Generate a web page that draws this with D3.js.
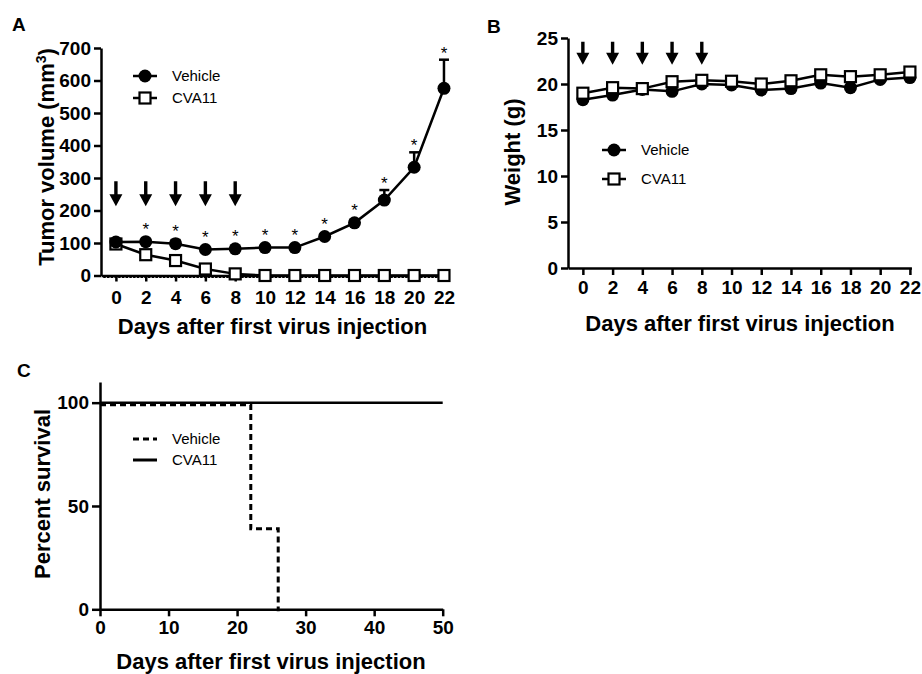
<!DOCTYPE html>
<html>
<head>
<meta charset="utf-8">
<script src="https://cdn.jsdelivr.net/npm/d3@7"></script>
<style>
  body { margin: 0; background: #fff; }
  svg { font-family: "Liberation Sans", Arial, sans-serif; }
  .axis path, .axis line { stroke: #000; stroke-width: 2.5; }
  .axis text { font-size: 19px; font-weight: bold; fill: #000; }
</style>
</head>
<body>
<div id="chart"></div>
<script>
// ---- data ----
const days = [0, 2, 4, 6, 8, 10, 12, 14, 16, 18, 20, 22];
const injectionDays = [0, 2, 4, 6, 8];
const sigDays = [2, 4, 6, 8, 10, 12, 14, 16, 18, 20, 22];

const tumorVehicle = [103, 104, 98, 80, 82, 86, 86, 120, 162, 232, 333, 576];
const tumorVehicleErr = [6, 5, 11, 5, 5, 5, 5, 7, 8, 31, 46, 88];
const tumorCva = [97, 64, 46, 20, 5, 0, 0, 0, 0, 0, 0, 0];

const weightVehicle = [18.3, 18.8, 19.4, 19.2, 20.0, 19.9, 19.35, 19.5, 20.1, 19.6, 20.5, 20.7];
const weightCva = [19.0, 19.6, 19.5, 20.25, 20.4, 20.3, 20.0, 20.35, 21.0, 20.8, 21.0, 21.3];

const survVehicleDays = [0, 22, 26];
const survVehicle = [100, 40, 0];
const survCvaDays = [0, 50];
const survCva = [100, 100];

const tumorTicks = [0, 100, 200, 300, 400, 500, 600, 700];
const weightTicks = [0, 5, 10, 15, 20, 25];
const survYTicks = [0, 50, 100];
const survXTicks = [0, 10, 20, 30, 40, 50];
const seriesNames = ["Vehicle", "CVA11"];

const svg = d3.select("#chart").append("svg")
  .attr("width", 922).attr("height", 674);

function arrowPath(x, yTop, yTip) {
  const hw = 6.5, hh = 12;
  return `M${x - 1.7},${yTop} L${x + 1.7},${yTop} L${x + 1.7},${yTip - hh} L${x + hw},${yTip - hh}` +
    ` L${x},${yTip} L${x - hw},${yTip - hh} L${x - 1.7},${yTip - hh} Z`;
}

function drawMarker(g, type, x, y, r) {
  if (type === "circle") {
    g.append("circle").attr("cx", x).attr("cy", y).attr("r", r).attr("fill", "#000");
  } else {
    g.append("rect").attr("x", x - r).attr("y", y - r).attr("width", 2 * r).attr("height", 2 * r)
      .attr("fill", "#fff").attr("stroke", "#000").attr("stroke-width", 2.2);
  }
}

function legend(g, x, y, gap, markerR, kind) {
  seriesNames.forEach((name, i) => {
    const yy = y + i * gap;
    const l = g.append("line").attr("x1", x).attr("x2", x + 24).attr("y1", yy).attr("y2", yy)
      .attr("stroke", "#000").attr("stroke-width", kind === "survival" ? 3 : 2.5);
    if (kind === "survival") {
      if (i === 0) l.attr("stroke-dasharray", "6,4");
    } else {
      drawMarker(g, i === 0 ? "circle" : "square", x + 12, yy, i === 0 ? markerR : markerR - 1);
    }
    g.append("text").attr("x", x + 39).attr("y", yy + 5)
      .style("font-size", "15px").text(name);
  });
}

function yTitle(x, y) {
  return svg.append("text")
    .attr("transform", `translate(${x},${y}) rotate(-90)`)
    .attr("text-anchor", "middle")
    .style("font-size", "22px").style("font-weight", "bold");
}

function xTitle(x, y) {
  svg.append("text").attr("x", x).attr("y", y).attr("text-anchor", "middle")
    .style("font-size", "22px").style("font-weight", "bold").text("Days after first virus injection");
}

function panelLabel(t, x, y) {
  svg.append("text").attr("x", x).attr("y", y).text(t)
    .style("font-size", "19px").style("font-weight", "bold");
}

// ---- panel A: tumor volume ----
{
  const x = d3.scaleLinear().domain([-1, 22.25]).range([101, 447.7]);
  const y = d3.scaleLinear().domain([0, 700]).range([275.5, 48]);
  const g = svg.append("g");

  g.append("g").attr("class", "axis").attr("transform", "translate(101,0)")
    .call(d3.axisLeft(y).tickValues(tumorTicks).tickSize(7).tickSizeOuter(0).tickPadding(3));
  g.append("g").attr("class", "axis").attr("transform", "translate(0,275.5)")
    .call(d3.axisBottom(x).tickValues(days).tickSize(6).tickSizeOuter(0).tickPadding(9));
  // fine minor ticks along the axis
  g.append("g").attr("class", "axis").attr("transform", "translate(0,275.5)")
    .call(d3.axisBottom(x).tickValues(d3.range(-0.8, 22.2, 0.25)).tickSize(2.5).tickSizeOuter(0).tickFormat(""))
    .call(s => s.select(".domain").remove())
    .selectAll("line").attr("stroke-width", 1);

  g.selectAll(".arr").data(injectionDays).join("path")
    .attr("d", d => arrowPath(x(d), y(290), y(213))).attr("fill", "#000");

  const line = d3.line().x((d, i) => x(days[i])).y(d => y(d));
  g.append("path").datum(tumorCva).attr("d", line).attr("fill", "none")
    .attr("stroke", "#000").attr("stroke-width", 2.5);
  g.append("path").datum(tumorVehicle).attr("d", line).attr("fill", "none")
    .attr("stroke", "#000").attr("stroke-width", 2.5);

  // error bars (upper only)
  tumorVehicle.forEach((v, i) => {
    const cx = x(days[i]), top = y(v + tumorVehicleErr[i]);
    g.append("line").attr("x1", cx).attr("x2", cx).attr("y1", y(v)).attr("y2", top)
      .attr("stroke", "#000").attr("stroke-width", 2.5);
    g.append("line").attr("x1", cx - 5).attr("x2", cx + 5).attr("y1", top).attr("y2", top)
      .attr("stroke", "#000").attr("stroke-width", 2.5);
  });
  tumorCva.forEach((v, i) => drawMarker(g, "square", x(days[i]), y(v), 5.5));
  tumorVehicle.forEach((v, i) => drawMarker(g, "circle", x(days[i]), y(v), 6.5));

  // significance stars
  sigDays.forEach(d => {
    const i = days.indexOf(d);
    const top = Math.min(y(tumorVehicle[i] + tumorVehicleErr[i]), y(tumorVehicle[i]) - 6);
    g.append("text").attr("x", x(d)).attr("y", top - 1).attr("text-anchor", "middle")
      .style("font-size", "17px").text("*");
  });

  legend(g, 133, 76, 22, 6.5, "tumor");

  const yt = yTitle(54, 157);
  yt.append("tspan").text("Tumor volume (mm");
  yt.append("tspan").attr("dy", -8).style("font-size", "14px").text("3");
  yt.append("tspan").attr("dy", 8).text(")");

  xTitle(x(10.5), 334);
  panelLabel("A", 12, 31);
}

// ---- panel B: weight ----
{
  const x = d3.scaleLinear().domain([-1, 22.1]).range([568, 911.4]);
  const y = d3.scaleLinear().domain([0, 25]).range([268, 38]);
  const g = svg.append("g");

  g.append("g").attr("class", "axis").attr("transform", "translate(568,0)")
    .call(d3.axisLeft(y).tickValues(weightTicks).tickSize(7).tickSizeOuter(0).tickPadding(3));
  g.append("g").attr("class", "axis").attr("transform", "translate(0,268)")
    .call(d3.axisBottom(x).tickValues(days).tickSize(7).tickSizeOuter(0).tickPadding(6));

  g.selectAll(".arr").data(injectionDays).join("path")
    .attr("d", d => arrowPath(x(d), y(24.6), y(22.1))).attr("fill", "#000");

  const line = d3.line().x((d, i) => x(days[i])).y(d => y(d));
  g.append("path").datum(weightVehicle).attr("d", line).attr("fill", "none")
    .attr("stroke", "#000").attr("stroke-width", 2.5);
  g.append("path").datum(weightCva).attr("d", line).attr("fill", "none")
    .attr("stroke", "#000").attr("stroke-width", 2.5);
  weightVehicle.forEach((v, i) => drawMarker(g, "circle", x(days[i]), y(v), 6.5));
  weightCva.forEach((v, i) => drawMarker(g, "square", x(days[i]), y(v), 5.5));

  legend(g, 602, 150, 29, 6.5, "weight");

  yTitle(520, 152).text("Weight (g)");
  xTitle(740, 331);
  panelLabel("B", 487, 33);
}

// ---- panel C: survival ----
{
  const x = d3.scaleLinear().domain([0, 50]).range([100, 442.7]);
  const y = d3.scaleLinear().domain([0, 110]).range([609.3, 382]);
  const g = svg.append("g");

  g.append("g").attr("class", "axis").attr("transform", "translate(100,0)")
    .call(d3.axisLeft(y).tickValues(survYTicks).tickSize(8).tickSizeOuter(0).tickPadding(3));
  g.append("g").attr("class", "axis").attr("transform", "translate(0,609.3)")
    .call(d3.axisBottom(x).tickValues(survXTicks).tickSize(7).tickSizeOuter(0).tickPadding(4));

  const line = d3.line().curve(d3.curveStepAfter).x(d => x(d[0])).y(d => y(d[1]));
  g.append("path").datum(d3.zip(survCvaDays, survCva)).attr("d", line)
    .attr("fill", "none").attr("stroke", "#000").attr("stroke-width", 2.5);
  g.append("path").datum(d3.zip(survVehicleDays, survVehicle)).attr("d", line)
    .attr("transform", "translate(0,2)")
    .attr("fill", "none").attr("stroke", "#000").attr("stroke-width", 3)
    .attr("stroke-dasharray", "6,4");

  legend(g, 133, 439, 21, 0, "survival");

  yTitle(50, 494).text("Percent survival");
  xTitle(271, 669);
  panelLabel("C", 17, 377);
}
</script>
</body>
</html>
